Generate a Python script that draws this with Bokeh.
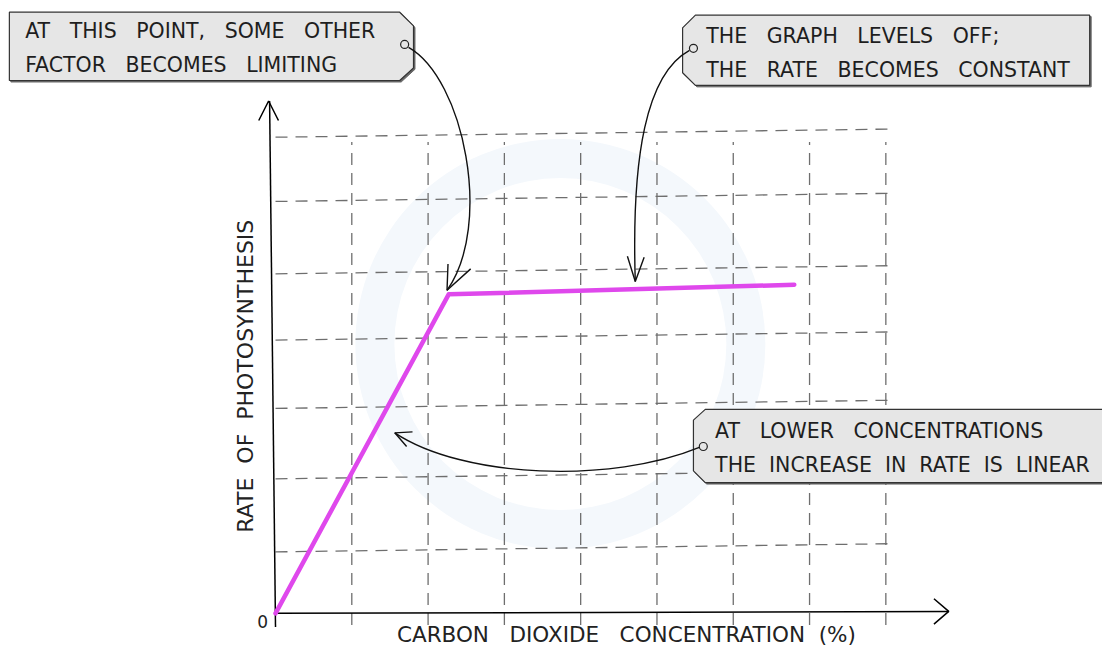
from bokeh.plotting import figure
from bokeh.models import Range1d
from bokeh.core.properties import value
from bokeh.embed import file_html
from bokeh.resources import INLINE

NB = "\u00a0"
G3 = " " + NB + NB        # wide word gaps (SVG collapses plain spaces)
G2 = " " + NB

# ---- data ----
co2 = [0.0, 2.27, 6.80]          # CO2 concentration (grid units)
rate = [0.0, 4.67, 4.81]         # rate of photosynthesis (grid units)
x_grid = [1, 2, 3, 4, 5, 6, 7, 8]
y_grid = [0.9, 1.97, 3.0, 4.0, 4.97, 6.03, 6.97]
x_label = G3.join(["CARBON", "DIOXIDE", "CONCENTRATION"]) + G2 + "(%)"
y_label = G2.join(["RATE", "OF", "PHOTOSYNTHESIS"])
origin_label = "0"
note1 = [G3.join(["AT", "THIS", "POINT,", "SOME", "OTHER"]),
         G3.join(["FACTOR", "BECOMES", "LIMITING"])]
note2 = [G3.join(["THE", "GRAPH", "LEVELS", "OFF;"]),
         G3.join(["THE", "RATE", "BECOMES", "CONSTANT"])]
note3 = [G3.join(["AT", "LOWER", "CONCENTRATIONS"]),
         G2.join(["THE", "INCREASE", "IN", "RATE", "IS", "LINEAR"])]

FONT = value("DejaVu Sans")
W, H = 1102, 648
REF_W, REF_H = 1118, 664
OX, OY = 279.0, 628.0     # reference-pixel position of origin
SX, SY = 77.4, 70.0       # reference pixels per grid unit


def dx(sx):
    return (sx - OX) / SX


def dy(sy):
    return (OY - sy) / SY


def pts(lst):
    return [dx(a) for a, b in lst], [dy(b) for a, b in lst]


p = figure(width=W, height=H, output_backend="svg", toolbar_location=None,
           x_range=Range1d(dx(0), dx(REF_W)), y_range=Range1d(dy(REF_H), dy(0)),
           x_axis_type=None, y_axis_type=None, min_border=0)
p.grid.visible = False
p.outline_line_color = None
p.background_fill_color = "white"

# faint watermark ring
p.annulus(x=[dx(568)], y=[dy(352)], inner_radius=166, outer_radius=205,
          inner_radius_units="screen", outer_radius_units="screen",
          fill_color="#f4f8fc", line_color=None)

# dashed grid (slightly hand-drawn tilt on the horizontals)
p.multi_line(xs=[[g, g] for g in x_grid], ys=[[-0.17, 6.9] for g in x_grid],
             line_color="#6e6e6e", line_width=1.3, line_dash="12 8")
p.multi_line(xs=[[0, 8.1] for g in y_grid], ys=[[g, g + 0.12] for g in y_grid],
             line_color="#6e6e6e", line_width=1.3, line_dash="12 8")

# axes
ax, ay = pts([(279, 628), (962, 626)])
p.line(ax, ay, line_color="black", line_width=1.5)
ax, ay = pts([(947, 613), (962, 626), (947, 639)])
p.line(ax, ay, line_color="black", line_width=1.5)
ax, ay = pts([(279, 642), (273, 103)])
p.line(ax, ay, line_color="black", line_width=1.5)
ax, ay = pts([(262, 123), (272, 103), (282, 123)])
p.line(ax, ay, line_color="black", line_width=1.5)

# data line
p.line(co2, rate, line_color="#df48ec", line_width=4.5, line_cap="round", line_join="round")

# axis labels
p.text(x=[dx(266)], y=[dy(636)], text=[origin_label], text_font=FONT, text_font_size="17px",
       text_align="center", text_baseline="middle", text_color="#222222")
p.text(x=[dx(635)], y=[dy(650)], text=[x_label], text_font=FONT, text_font_size="21.5px",
       text_align="center", text_baseline="middle", text_color="#222222")
p.text(x=[dx(249)], y=[dy(385)], text=[y_label], text_font=FONT, text_font_size="22px",
       text_align="center", text_baseline="middle", text_color="#222222", angle=1.5708)


# annotation boxes
def box(poly, lines, tx, ty, circ):
    sx_, sy_ = pts([(a + 1.5, b + 1.5) for a, b in poly])
    p.patch(sx_, sy_, fill_color="#666666", line_color="#666666", line_width=1)
    bx, by = pts(poly)
    p.patch(bx, by, fill_color="#e6e6e6", line_color="#333333", line_width=1.2)
    p.text(x=[dx(tx)] * 2, y=[dy(ty), dy(ty + 35)], text=lines, text_font=FONT,
           text_font_size="20.5px", text_align="left", text_baseline="middle",
           text_color="#1e1e1e")
    p.scatter(x=[dx(circ[0])], y=[dy(circ[1])], size=8, marker="circle",
              fill_color="#e6e6e6", line_color="#222222", line_width=1.2)


box([(9, 12), (405, 12), (419, 26), (419, 69), (405, 82), (9, 82)], note1, 25, 31, (410, 45))
box([(705, 15), (1105, 15), (1105, 87), (705, 87), (692, 74), (692, 28)], note2, 716, 36, (703, 49))
box([(715, 419), (1130, 419), (1130, 494), (715, 494), (703, 482), (703, 430)], note3, 725, 441, (713, 457))


# curved arrows
def arrow(p0, c0, c1, p1, arm1, arm2):
    p.bezier(x0=[dx(p0[0])], y0=[dy(p0[1])], x1=[dx(p1[0])], y1=[dy(p1[1])],
             cx0=[dx(c0[0])], cy0=[dy(c0[1])], cx1=[dx(c1[0])], cy1=[dy(c1[1])],
             line_color="#111111", line_width=1.4)
    hx, hy = pts([arm1, p1, arm2])
    p.line(hx, hy, line_color="#111111", line_width=1.4)


arrow((414, 48), (470, 80), (500, 230), (453, 297), (454, 270), (477, 275))
arrow((699, 51), (655, 75), (640, 160), (644, 288), (636, 262), (653, 263))
arrow((709, 458), (620, 495), (470, 490), (400, 443), (418, 442), (412, 457))

open("out.html", "w").write(file_html(p, INLINE))
